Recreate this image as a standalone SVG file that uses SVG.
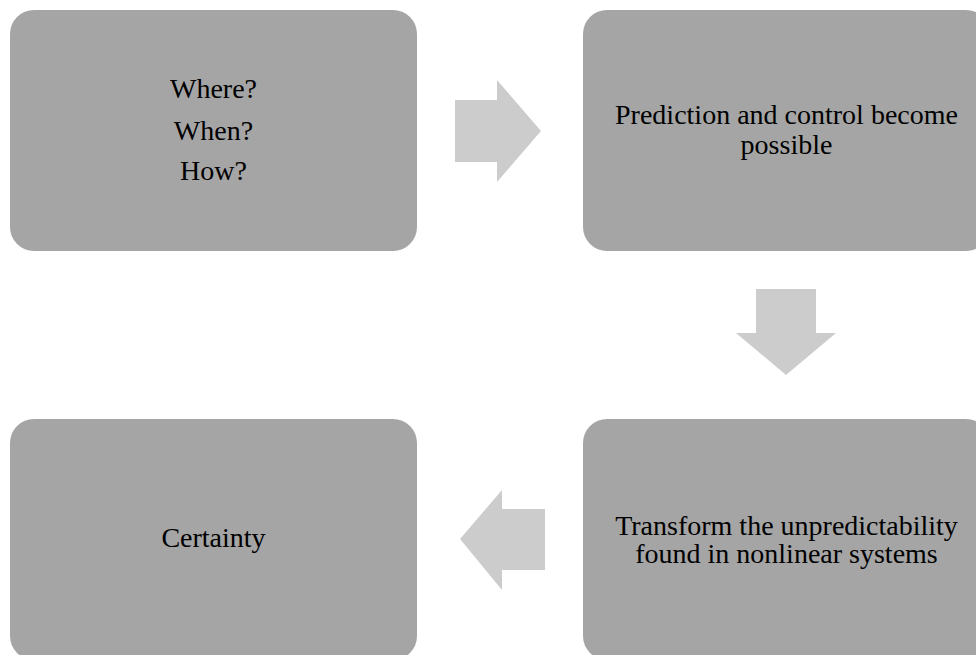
<svg xmlns="http://www.w3.org/2000/svg" width="976" height="655" viewBox="0 0 976 655">
<style>
.box{fill:#a5a5a5;}
.arrow{fill:#cccccc;}
text{font-family:"Liberation Serif","Times New Roman",serif;font-size:28px;fill:#000;text-anchor:middle;}
</style>
<rect width="976" height="655" fill="#ffffff"/>
<g id="connectors">
<polygon class="arrow" points="455,100 497,100 497,80 541,131 497,182 497,162 455,162"/>
<polygon class="arrow" points="756,289 816,289 816,333 836,333 786,375 736,333 756,333"/>
<polygon class="arrow" points="545,509 502,509 502,490 460,539 502,590 502,570 545,570"/>
</g>
<g id="node1">
<rect class="box" x="10" y="10" width="407" height="241" rx="24"/>
<text x="213.5" y="98">Where?</text>
<text x="213.5" y="140">When?</text>
<text x="213.5" y="180">How?</text>
</g>
<g id="node2">
<rect class="box" x="583" y="10" width="407" height="241" rx="24"/>
<text x="786.5" y="124">Prediction and control become</text>
<text x="786.5" y="154">possible</text>
</g>
<g id="node3">
<rect class="box" x="583" y="419" width="407" height="241" rx="24"/>
<text x="786.5" y="535">Transform the unpredictability</text>
<text x="786.5" y="563">found in nonlinear systems</text>
</g>
<g id="node4">
<rect class="box" x="10" y="419" width="407" height="241" rx="24"/>
<text x="213.5" y="547">Certainty</text>
</g>
</svg>
